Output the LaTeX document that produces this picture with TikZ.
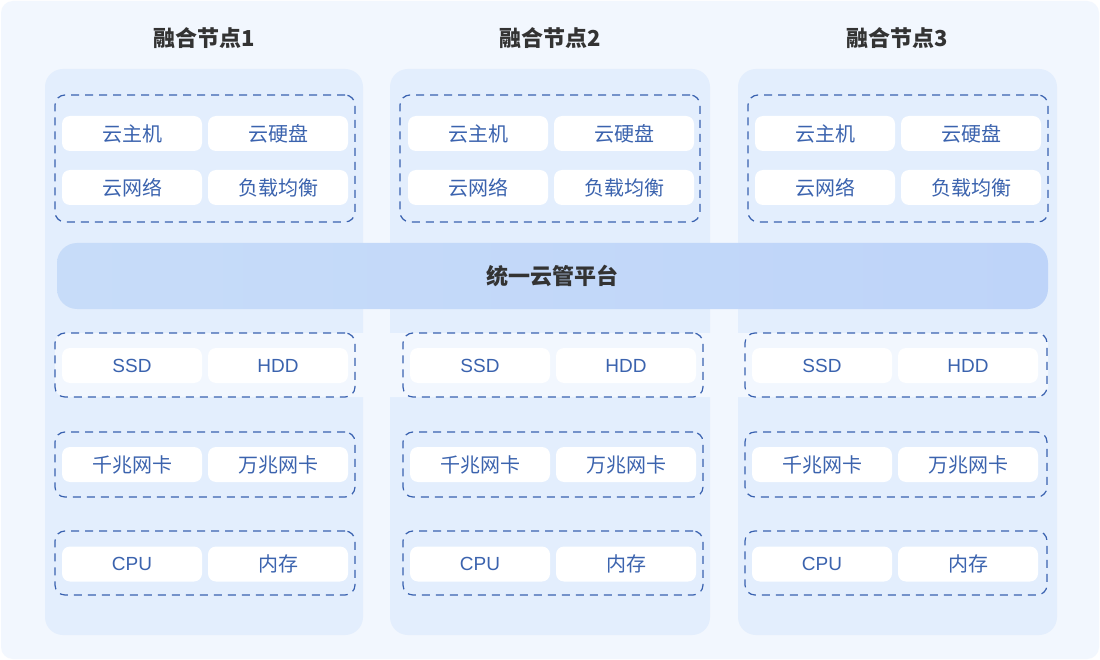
\documentclass[tikz,border=0pt]{standalone}
\usepackage{fontspec}
\setmainfont{Noto Sans CJK SC}
\newfontfamily\latinfont{Liberation Sans}
\usepackage{tikz}
\usetikzlibrary{positioning}
\usepackage{xcolor}
\definecolor{pagebg}{RGB}{242,247,254}
\definecolor{colbg}{RGB}{227,238,253}
\definecolor{barleft}{RGB}{199,220,249}
\definecolor{barright}{RGB}{190,212,249}
\definecolor{dashblue}{RGB}{58,98,176}
\definecolor{cellblue}{RGB}{59,99,174}
\definecolor{titlegray}{RGB}{51,51,51}

\begin{document}
\begin{tikzpicture}[
    x=1pt, y=-1pt,
    colpanel/.style={rectangle, rounded corners=18pt, fill=colbg, inner sep=0pt, minimum height=566pt},
    grp/.style={rectangle, draw=dashblue, line width=1.2pt, dash pattern=on 8pt off 6pt, rounded corners=10pt, inner sep=0pt, minimum width=300pt},
    cell/.style={rectangle, fill=white, rounded corners=8pt, inner sep=0pt, minimum width=140pt, minimum height=35pt, text=cellblue, font=\fontsize{20}{24}\selectfont},
    lcell/.style={cell, font=\latinfont\fontsize{19}{24}\selectfont},
    title/.style={text=titlegray, font=\fontsize{22}{26}\selectfont\bfseries}
]
\fill[white] (0,0) rectangle (1100,660);
\useasboundingbox (0,0) rectangle (1100,660);
\fill[pagebg, rounded corners=12pt] (1,1) rectangle (1099,659);

% node panels
\node[colpanel, minimum width=318pt] (col1) at (204,352) {};
\node[colpanel, minimum width=320pt] (col2) at (550,352) {};
\node[colpanel, minimum width=319pt] (col3) at (897.5,352) {};

\node[title] (title1) at (204,38) {融合节点1};
\node[title] (title2) at (550,38) {融合节点2};
\node[title] (title3) at (897,38) {融合节点3};

% light band behind the storage row
\node[rectangle, fill=pagebg, rounded corners=10pt, minimum width=991pt, minimum height=64pt] (band) at (552.5,365) {};

% unified platform
\node[rectangle, rounded corners=20pt, left color=barleft, right color=barright, minimum width=991pt, minimum height=66pt, text=titlegray, font=\fontsize{22}{26}\selectfont\bfseries] (platform) at (552.5,276) {统一云管平台};

% node 1
\node[grp, minimum height=127pt] (g1svc) at (205,158.5) {};
\node[cell] (c1vm) at (132,133.5) {云主机};
\node[cell] (c1disk) at (278,133.5) {云硬盘};
\node[cell] (c1net) at (132,187.5) {云网络};
\node[cell] (c1lb) at (278,187.5) {负载均衡};

\node[grp, fill=pagebg, minimum height=64pt] (g1sto) at (205,365) {};
\node[lcell] (c1ssd) at (132,365.5) {SSD};
\node[lcell] (c1hdd) at (278,365.5) {HDD};

\node[grp, minimum height=65pt] (g1nic) at (205,464.5) {};
\node[cell] (c1gbe) at (132,464.5) {千兆网卡};
\node[cell] (c1xge) at (278,464.5) {万兆网卡};

\node[grp, minimum height=64pt] (g1cpu) at (205,563) {};
\node[lcell] (c1cpu) at (132,564) {CPU};
\node[cell] (c1mem) at (278,564) {内存};

% node 2
\node[grp, minimum height=127pt] (g2svc) at (550,158.5) {};
\node[cell] (c2vm) at (478,133.5) {云主机};
\node[cell] (c2disk) at (624,133.5) {云硬盘};
\node[cell] (c2net) at (478,187.5) {云网络};
\node[cell] (c2lb) at (624,187.5) {负载均衡};

\node[grp, fill=pagebg, minimum height=64pt] (g2sto) at (553,365) {};
\node[lcell] (c2ssd) at (480,365.5) {SSD};
\node[lcell] (c2hdd) at (626,365.5) {HDD};

\node[grp, minimum height=65pt] (g2nic) at (553,464.5) {};
\node[cell] (c2gbe) at (480,464.5) {千兆网卡};
\node[cell] (c2xge) at (626,464.5) {万兆网卡};

\node[grp, minimum height=64pt] (g2cpu) at (553,563) {};
\node[lcell] (c2cpu) at (480,564) {CPU};
\node[cell] (c2mem) at (626,564) {内存};

% node 3
\node[grp, minimum height=127pt] (g3svc) at (898,158.5) {};
\node[cell] (c3vm) at (825,133.5) {云主机};
\node[cell] (c3disk) at (971,133.5) {云硬盘};
\node[cell] (c3net) at (825,187.5) {云网络};
\node[cell] (c3lb) at (971,187.5) {负载均衡};

\node[grp, fill=pagebg, minimum height=64pt, minimum width=302pt] (g3sto) at (896,365) {};
\node[lcell] (c3ssd) at (822,365.5) {SSD};
\node[lcell] (c3hdd) at (968,365.5) {HDD};

\node[grp, minimum height=65pt, minimum width=302pt] (g3nic) at (896,464.5) {};
\node[cell] (c3gbe) at (822,464.5) {千兆网卡};
\node[cell] (c3xge) at (968,464.5) {万兆网卡};

\node[grp, minimum height=64pt, minimum width=302pt] (g3cpu) at (896,563) {};
\node[lcell] (c3cpu) at (822,564) {CPU};
\node[cell] (c3mem) at (968,564) {内存};
\end{tikzpicture}
\end{document}
